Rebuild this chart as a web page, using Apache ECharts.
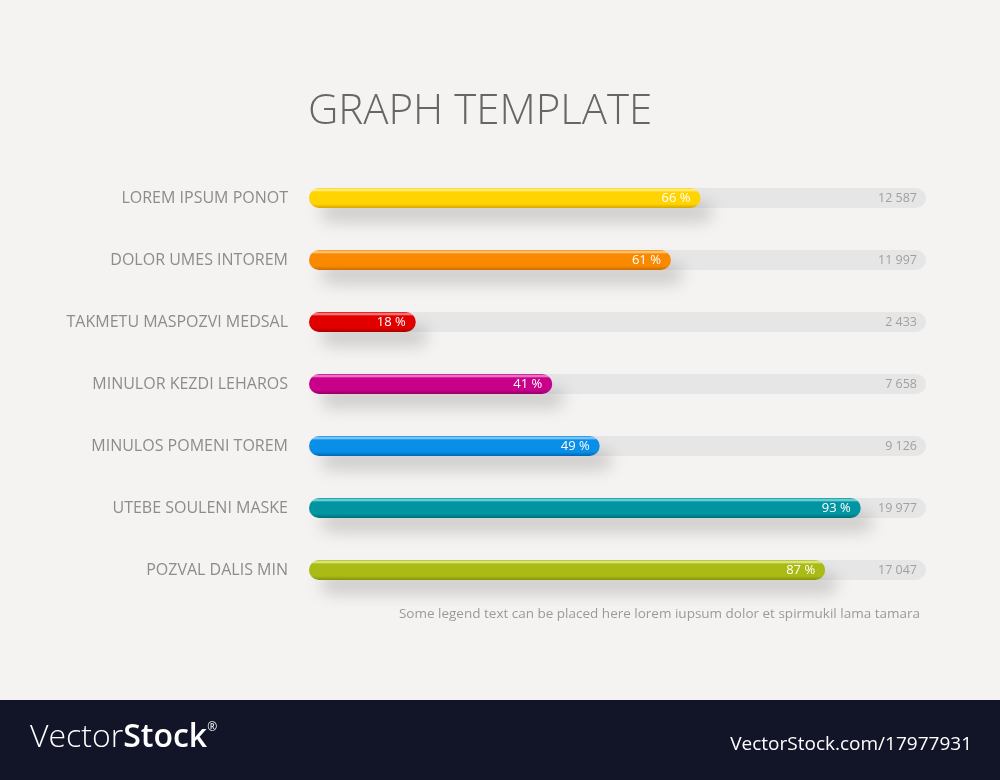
<!DOCTYPE html>
<html>
<head>
<meta http-equiv="Content-Type" content="text/html; charset=utf-8"/>
<title>Graph template</title>
<script src="https://cdn.jsdelivr.net/npm/echarts@6/dist/echarts.min.js"></script>
<style>
  html,body{margin:0;padding:0;background:#f4f3f1;}
  #chart{width:1000px;height:780px;}
</style>
</head>
<body>
<div id="chart"></div>
<script type="text/javascript">
// data
var categories = ['LOREM IPSUM PONOT', 'DOLOR UMES INTOREM', 'TAKMETU MASPOZVI MEDSAL',
                  'MINULOR KEZDI LEHAROS', 'MINULOS POMENI TOREM', 'UTEBE SOULENI MASKE', 'POZVAL DALIS MIN'];
var percents = [66, 61, 18, 41, 49, 93, 87];
var counts = ['12 587', '11 997', '2 433', '7 658', '9 126', '19 977', '17 047'];

// base / highlight / dark tone per bar
var tones = [
  ['#ffd400', '#fff1a0', '#d6a600'],
  ['#f98a00', '#ffd29a', '#d06a00'],
  ['#e00000', '#ff9a9a', '#a80000'],
  ['#c8008a', '#f39ad6', '#930066'],
  ['#0a8fe8', '#9fd4ff', '#0066b5'],
  ['#0095a0', '#8fdde3', '#006c76'],
  ['#abbb15', '#e6f0a0', '#84930c']
];

function barFill(t){
  return new echarts.graphic.LinearGradient(0, 0, 0, 1, [
    {offset: 0, color: t[0]},
    {offset: 0.1, color: t[1]},
    {offset: 0.2, color: t[0]},
    {offset: 0.8, color: t[0]},
    {offset: 1, color: t[2]}
  ]);
}

var barData = percents.map(function(v, i){
  return {value: v, itemStyle: {color: barFill(tones[i])}};
});

var fontF = '"Open Sans", "Noto Sans", sans-serif';

var myChart = echarts.init(document.getElementById('chart'));
var option = {
  backgroundColor: '#f4f3f1',
  animation: false,
  title: {
    text: 'GRAPH TEMPLATE',
    left: 303,
    top: 86,
    textStyle: {fontFamily: fontF, fontWeight: 300, fontSize: 42, color: '#666666'}
  },
  grid: {left: 309, right: 74, top: 167, bottom: 179},
  xAxis: {
    type: 'value', min: 0, max: 104,
    show: false
  },
  yAxis: [
    {
      type: 'category', inverse: true, data: categories,
      axisLine: {show: false}, axisTick: {show: false},
      axisLabel: {margin: 21, fontFamily: fontF, fontSize: 16, color: '#8c8c8c'}
    },
    {
      type: 'category', inverse: true, data: counts, position: 'right', z: 10,
      axisLine: {show: false}, axisTick: {show: false},
      axisLabel: {inside: true, margin: 9, fontFamily: fontF, fontSize: 12.5, color: '#a0a0a0'}
    }
  ],
  series: [
    {
      type: 'bar',
      yAxisIndex: 0,
      data: barData,
      barWidth: 20,
      showBackground: true,
      backgroundStyle: {color: '#e6e6e6', borderRadius: 10},
      itemStyle: {
        borderRadius: 10,
        shadowColor: 'rgba(0,0,0,0.16)',
        shadowBlur: 16,
        shadowOffsetX: 12,
        shadowOffsetY: 14
      },
      label: {
        show: true, position: 'insideRight', distance: 10,
        formatter: '{c} %',
        fontFamily: fontF, fontSize: 13, color: '#ffffff'
      }
    }
  ],
  graphic: [
    {
      type: 'text', right: 80, top: 607,
      style: {
        text: 'Some legend text can be placed here lorem iupsum dolor et spirmukil lama tamara',
        font: '13.5px "Open Sans", "Noto Sans", sans-serif', fill: '#9a9a9a'
      }
    },
    {
      type: 'rect', left: 0, top: 700,
      shape: {width: 1000, height: 80},
      style: {fill: '#121428'}
    },
    {
      type: 'text', left: 30, top: 722,
      style: {
        text: '{a|Vector}{b|Stock}{c|®}',
        rich: {
          a: {fontFamily: fontF, fontWeight: 300, fontSize: 32, fill: '#ffffff', color: '#ffffff'},
          b: {fontFamily: fontF, fontWeight: 600, fontSize: 32, fill: '#ffffff', color: '#ffffff'},
          c: {fontFamily: fontF, fontSize: 12, fill: '#ffffff', color: '#ffffff', verticalAlign: 'top'}
        }
      }
    },
    {
      type: 'text', right: 28, top: 735,
      style: {
        text: 'VectorStock.com/17977931',
        font: '19px "Open Sans", "Noto Sans", sans-serif', fill: '#ffffff'
      }
    }
  ]
};
myChart.setOption(option);
</script>
</body>
</html>
